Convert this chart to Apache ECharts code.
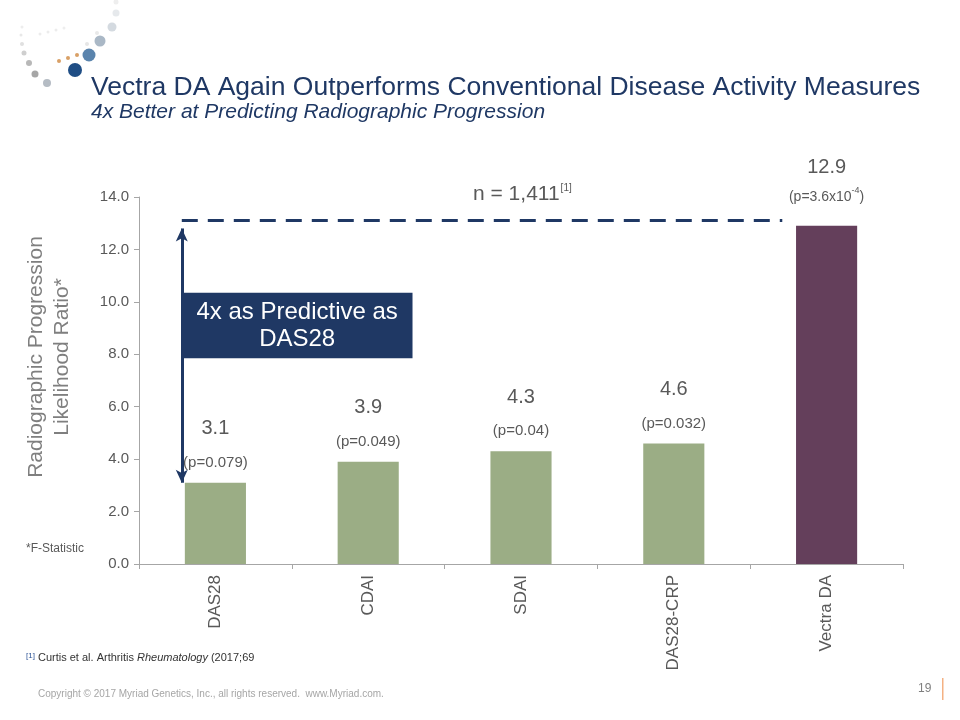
<!DOCTYPE html>
<html><head><meta charset="utf-8">
<script src="https://cdn.jsdelivr.net/npm/echarts@6/dist/echarts.min.js"></script>
<style>html,body{margin:0;padding:0;background:#fff}#c{width:960px;height:720px}</style>
</head><body><div id="c"></div>
<script>
const categories = ['DAS28', 'CDAI', 'SDAI', 'DAS28-CRP', 'Vectra DA'];
const ratios = [3.1, 3.9, 4.3, 4.6, 12.9];
const pValues = ['(p=0.079)', '(p=0.049)', '(p=0.04)', '(p=0.032)', '(p=3.6x10^-4)'];
const yTicks = [0, 2, 4, 6, 8, 10, 12, 14];
// annotation positions in data units (hidden 0..5 x scale, y ratio scale)
const dashLine = [[0.28, 13.1], [4.21, 13.1]];
const arrowLine = [[0.28, 12.8], [0.28, 3.1]];
const boxArea = [[0.28, 10.35], [1.79, 7.85]];

const GREEN = '#9bad85', PURPLE = '#643f5b', NAVY = '#1f3864', GREY = '#595959';
const FF = '"Liberation Sans", Arial, sans-serif';

const chart = echarts.init(document.getElementById('c'), null, {renderer: 'canvas'});
const dots = [
  [75,70,7,'#1f4e85'],[89,55,6.5,'#5a84ad'],[100,41,5.5,'#aab8c6'],[112,27,4.5,'#d4dae0'],[116,13,3.5,'#e6e9ec'],[116,2,2.5,'#eeeeee'],
  [59,61,2,'#d9a066'],[68,58,2,'#d9a066'],[77,55,2,'#d9a066'],
  [87,44,2,'#e6e6e6'],[97,33,2,'#e9e9e9'],[40,34,1.5,'#ececec'],[48,32,1.5,'#ececec'],[56,30,1.5,'#ececec'],[64,28,1.5,'#eeeeee'],
  [22,27,1.5,'#ededed'],[21,35,1.5,'#e8e8e8'],[22,44,2,'#e0e0e0'],[24,53,2.5,'#cfcfcf'],[29,63,3,'#b8b8b8'],[35,74,3.5,'#a6a6a6'],[47,83,4,'#b5bcc4']
];
const graphics = dots.map(d => ({type:'circle', shape:{cx:d[0], cy:d[1], r:d[2]}, style:{fill:d[3]}, silent:true}));
graphics.push(
  {type:'text', left:91, top:74, style:{text:'Vectra DA Again Outperforms Conventional Disease Activity Measures', fill:NAVY, font:'26.5px ' + FF}},
  {type:'text', left:91, top:102, style:{text:'4x Better at Predicting Radiographic Progression', fill:NAVY, font:'italic 21px ' + FF}},
  {type:'text', x:49, y:357, rotation: Math.PI/2, style:{text:'Radiographic Progression\nLikelihood Ratio*', fill:'#7f7f7f', font:'21px ' + FF, lineHeight:26, align:'center', verticalAlign:'middle'}},
  {type:'text', left:473, top:183, style:{text:'n = 1,411{s|[1]}', fill:GREY, font:'21px ' + FF,
     rich:{s:{fontSize:10, verticalAlign:'top', fill:GREY, padding:[0,0,12,1]}}}},
  {type:'text', left:26, top:543, style:{text:'*F-Statistic', fill:GREY, font:'12px ' + FF}},
  {type:'text', left:26, top:652, style:{text:'{s|[1]} Curtis et al. Arthritis {i|Rheumatology} (2017;69', fill:'#333', font:'11px ' + FF,
     rich:{s:{fontSize:8, fill:'#2f5597', verticalAlign:'top'}, i:{fontStyle:'italic', fontSize:11, fill:'#333'}}}},
  {type:'text', left:38, top:689, style:{text:'Copyright \u00a9 2017 Myriad Genetics, Inc., all rights reserved.  www.Myriad.com.', fill:'#a6a6a6', font:'10px ' + FF}},
  {type:'text', left:918, top:683, style:{text:'19', fill:'#7f7f7f', font:'12px ' + FF}},
  {type:'rect', shape:{x:942, y:678, width:1.5, height:22}, style:{fill:'#f4b183'}}
);

function labelRich(value, s) {
  const parts = s.split('^');
  if (parts.length === 1) return '{v|' + value.toFixed(1) + '}\n{p|' + s + '}';
  const m = parts[1].match(/^(-?\d+)(.*)$/);
  return '{vs|' + value.toFixed(1) + '}\n{ps|' + parts[0] + '}{sup|' + m[1] + '}{ps|' + m[2] + '}\n{gap| }';
}

chart.setOption({
  animation: false,
  backgroundColor: '#fff',
  grid: {left: 139, right: 57, top: 197, bottom: 156},
  xAxis: [{
    type: 'category', data: categories,
    axisLine: {lineStyle: {color: '#a6a6a6'}},
    axisTick: {show: true, length: 5, lineStyle: {color: '#a6a6a6'}},
    axisLabel: {rotate: 90, color: GREY, fontSize: 17, margin: 11, fontFamily: FF}
  }, {
    type: 'value', min: 0, max: 5, show: false
  }],
  yAxis: {
    type: 'value', min: 0, max: 14, interval: 2,
    axisLine: {show: true, lineStyle: {color: '#a6a6a6'}},
    axisTick: {show: true, length: 5, lineStyle: {color: '#a6a6a6'}},
    splitLine: {show: false},
    axisLabel: {color: GREY, fontSize: 15, margin: 10, formatter: v => yTicks.includes(v) ? v.toFixed(1) : '', fontFamily: FF}
  },
  graphic: graphics,
  series: [{
    type: 'bar', barWidth: '40%',
    data: ratios.map((v, i) => ({value: v, itemStyle: {color: i === 4 ? PURPLE : GREEN}})),
    label: {
      show: true, position: 'top', distance: 9,
      formatter: p => labelRich(p.value, pValues[p.dataIndex]),
      rich: {
        v: {fontSize: 20, color: GREY, lineHeight: 46, fontFamily: FF},
        p: {fontSize: 15, color: GREY, lineHeight: 22, fontFamily: FF},
        vs: {fontSize: 20, color: GREY, lineHeight: 36, fontFamily: FF},
        ps: {fontSize: 14, color: GREY, lineHeight: 22, fontFamily: FF},
        sup: {fontSize: 9, color: GREY, verticalAlign: 'top', lineHeight: 14, fontFamily: FF},
        gap: {fontSize: 4, lineHeight: 9}
      }
    }
  }, {
    type: 'line', xAxisIndex: 1, data: dashLine, symbol: 'none', z: 5,
    lineStyle: {color: NAVY, width: 3, type: [16, 10]},
    markLine: {
      silent: true, symbol: ['arrow', 'arrow'], symbolSize: [9, 13],
      lineStyle: {color: NAVY, width: 3, type: 'solid'}, label: {show: false},
      data: [[{coord: arrowLine[0]}, {coord: arrowLine[1]}]]
    },
    markArea: {
      silent: true,
      itemStyle: {color: NAVY, opacity: 1},
      label: {show: true, position: 'inside', color: '#fff', fontSize: 24, lineHeight: 27, fontFamily: FF},
      data: [[{coord: boxArea[0], name: '4x as Predictive as\nDAS28'}, {coord: boxArea[1]}]]
    }
  }]
});
</script></body></html>
